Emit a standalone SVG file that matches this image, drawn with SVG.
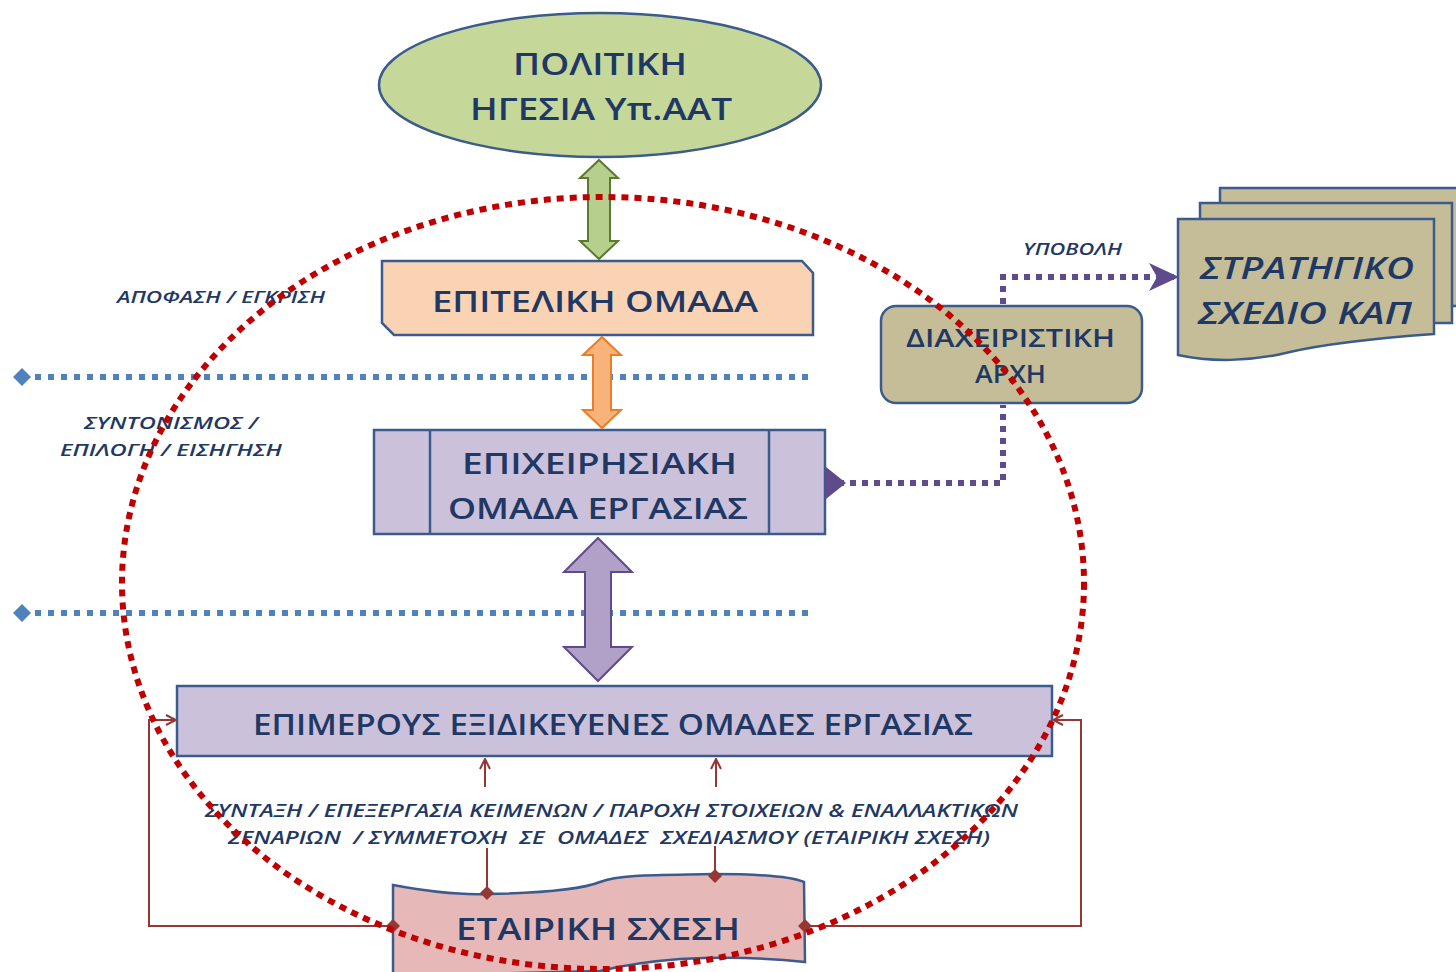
<svg xmlns="http://www.w3.org/2000/svg" width="1456" height="972" viewBox="0 0 1456 972">
<defs>
<style>
.t{font-family:"Open Sans","Noto Sans","DejaVu Sans",sans-serif;font-weight:600;fill:#1f3864;}
.i{font-style:italic;}
.node{stroke:#3b5b8c;stroke-width:2.5;}
.blue{stroke:#4f81bd;stroke-width:6;stroke-dasharray:6 7;fill:none;}
.purp{stroke:#5f4b8b;stroke-width:6;stroke-dasharray:6 6;fill:none;}
.red{stroke:#953735;stroke-width:2;fill:none;}
</style>
<marker id="chev" viewBox="0 0 12 12" refX="11" refY="6" markerWidth="12" markerHeight="12" markerUnits="userSpaceOnUse" orient="auto">
<path d="M1,1 L11,6 L1,11" fill="none" stroke="#953735" stroke-width="2"/>
</marker>
<marker id="rdia" viewBox="0 0 12 12" refX="6" refY="6" markerWidth="14" markerHeight="14" markerUnits="userSpaceOnUse" orient="auto">
<path d="M6,0 L12,6 L6,12 L0,6 Z" fill="#953735"/>
</marker>
<marker id="stealth" viewBox="0 0 30 30" refX="29" refY="15" markerWidth="30" markerHeight="30" markerUnits="userSpaceOnUse" orient="auto">
<path d="M0,1 L30,15 L0,29 L8,15 Z" fill="#5f4b8b"/>
</marker>
<marker id="ptri" viewBox="0 0 20 32" refX="0" refY="16" markerWidth="20" markerHeight="32" markerUnits="userSpaceOnUse" orient="auto">
<path d="M0,0 L20,16 L0,32 Z" fill="#5f4b8b"/>
</marker>
<marker id="bdia" viewBox="0 0 18 18" refX="9" refY="9" markerWidth="18" markerHeight="18" markerUnits="userSpaceOnUse" orient="auto">
<path d="M9,0 L18,9 L9,18 L0,9 Z" fill="#4f81bd"/>
</marker>
</defs>
<rect width="1456" height="972" fill="#ffffff"/>

<g id="guides">
<path class="blue" d="M22,377 H813" marker-start="url(#bdia)"/>
<path class="blue" d="M22,613 H813" marker-start="url(#bdia)"/>
</g>

<g id="labels">
<text class="t i" x="117" y="303" font-size="17" textLength="208" lengthAdjust="spacingAndGlyphs">ΑΠΟΦΑΣΗ / ΕΓΚΡΙΣΗ</text>
<text class="t i" x="84" y="429" font-size="17" textLength="174" lengthAdjust="spacingAndGlyphs">ΣΥΝΤΟΝΙΣΜΟΣ  /</text>
<text class="t i" x="60" y="456" font-size="17" textLength="222" lengthAdjust="spacingAndGlyphs">ΕΠΙΛΟΓΗ / ΕΙΣΗΓΗΣΗ</text>
<text class="t i" x="1023" y="255" font-size="17" textLength="99" lengthAdjust="spacingAndGlyphs">ΥΠΟΒΟΛΗ</text>
<text class="t i" x="205" y="817" font-size="18" textLength="813" lengthAdjust="spacingAndGlyphs">ΣΥΝΤΑΞΗ / ΕΠΕΞΕΡΓΑΣΙΑ ΚΕΙΜΕΝΩΝ / ΠΑΡΟΧΗ ΣΤΟΙΧΕΙΩΝ &amp; ΕΝΑΛΛΑΚΤΙΚΩΝ</text>
<text class="t i" x="228" y="844" font-size="18" textLength="762" lengthAdjust="spacingAndGlyphs" xml:space="preserve">ΣΕΝΑΡΙΩΝ  / ΣΥΜΜΕΤΟΧΗ  ΣΕ  ΟΜΑΔΕΣ  ΣΧΕΔΙΑΣΜΟΥ (ΕΤΑΙΡΙΚΗ ΣΧΕΣΗ)</text>
</g>

<g id="politiki">
<ellipse class="node" cx="600" cy="85" rx="221" ry="72" fill="#c5d89a"/>
<text class="t" x="513" y="75" font-size="30" textLength="174" lengthAdjust="spacingAndGlyphs">ΠΟΛΙΤΙΚΗ</text>
<text class="t" x="470" y="120" font-size="30" textLength="262" lengthAdjust="spacingAndGlyphs">ΗΓΕΣΙΑ Υπ.ΑΑΤ</text>
</g>

<g id="epiteliki">
<path class="node" d="M382,261 H802 L813,273 V335 H394 L382,323 Z" fill="#fad3b4"/>
<text class="t" x="432" y="312" font-size="29" textLength="326" lengthAdjust="spacingAndGlyphs">ΕΠΙΤΕΛΙΚΗ ΟΜΑΔΑ</text>
</g>

<g id="epixeirisiaki">
<rect class="node" x="374" y="430" width="451" height="104" fill="#ccc1da"/>
<path class="node" d="M430,430 V534 M769,430 V534" fill="none"/>
<text class="t" x="462" y="474" font-size="29" textLength="275" lengthAdjust="spacingAndGlyphs">ΕΠΙΧΕΙΡΗΣΙΑΚΗ</text>
<text class="t" x="448" y="519" font-size="29" textLength="300" lengthAdjust="spacingAndGlyphs">ΟΜΑΔΑ ΕΡΓΑΣΙΑΣ</text>
</g>

<g id="epimerous">
<rect class="node" x="177" y="686" width="875" height="70" fill="#ccc1da"/>
<text class="t" x="253" y="735" font-size="28" textLength="720" lengthAdjust="spacingAndGlyphs">ΕΠΙΜΕΡΟΥΣ ΕΞΙΔΙΚΕΥΕΝΕΣ ΟΜΑΔΕΣ ΕΡΓΑΣΙΑΣ</text>
</g>

<g id="etairiki">
<path class="node" d="M393,885 C430,892 460,895 487,894 C540,893 580,890 600,882 C620,874 660,875 713,874 C760,874 790,876 804,882 L805,962 C760,957 720,957 680,959 C640,962 620,966 600,971 L393,976 Z" fill="#e6b9b8"/>
<text class="t" x="456" y="940" font-size="31" textLength="284" lengthAdjust="spacingAndGlyphs">ΕΤΑΙΡΙΚΗ ΣΧΕΣΗ</text>
</g>

<g id="diaxeiristiki">
<rect class="node" x="881" y="306" width="261" height="97" rx="15" fill="#c4bd97"/>
<text class="t" x="906" y="347" font-size="25" textLength="209" lengthAdjust="spacingAndGlyphs">ΔΙΑΧΕΙΡΙΣΤΙΚΗ</text>
<text class="t" x="975" y="383" font-size="25" textLength="71" lengthAdjust="spacingAndGlyphs">ΑΡΧΗ</text>
</g>

<g id="stratigiko">
<rect class="node" x="1220" y="188" width="260" height="118" fill="#c4bd97"/>
<rect class="node" x="1200" y="203" width="252" height="120" fill="#c4bd97"/>
<path class="node" d="M1178,219 H1434 V334 C1380,338 1320,345 1290,352 C1250,362 1210,362 1178,355 Z" fill="#c4bd97"/>
<text class="t i" x="1200" y="279" font-size="31" textLength="214" lengthAdjust="spacingAndGlyphs">ΣΤΡΑΤΗΓΙΚΟ</text>
<text class="t i" x="1198" y="324" font-size="31" textLength="214" lengthAdjust="spacingAndGlyphs">ΣΧΕΔΙΟ ΚΑΠ</text>
</g>

<g id="connectors">
<path d="M599,160 L618,178 L610,178 L610,241 L618,241 L599,259 L580,241 L588,241 L588,178 L580,178 Z" fill="#b7cf8d" stroke="#5a7a30" stroke-width="2"/>
<path d="M602,337 L621,355 L611,355 L611,410 L621,410 L602,428 L583,410 L593,410 L593,355 L583,355 Z" fill="#f7b37a" stroke="#e87e2a" stroke-width="2"/>
<path d="M598,538 L632,572 L611,572 L611,647 L632,647 L598,681 L564,647 L585,647 L585,572 L564,572 Z" fill="#b1a0c7" stroke="#5f4b8b" stroke-width="2"/>
<path class="purp" d="M826,483 H1003 V405" marker-start="url(#ptri)"/>
<path class="purp" d="M1003,304 V277 H1178" marker-end="url(#stealth)"/>
<path class="red" d="M485,787 V759" marker-end="url(#chev)"/>
<path class="red" d="M716,787 V759" marker-end="url(#chev)"/>
<path class="red" d="M487,848 V893" marker-end="url(#rdia)"/>
<path class="red" d="M715,846 V876" marker-end="url(#rdia)"/>
<path class="red" d="M393,926 H149 V720 H176" marker-start="url(#rdia)" marker-end="url(#chev)"/>
<path class="red" d="M805,926 H1081 V720 H1053" marker-start="url(#rdia)" marker-end="url(#chev)"/>
</g>

<g id="scope">
<ellipse cx="603" cy="583" rx="481" ry="386" fill="none" stroke="#c00000" stroke-width="6" stroke-dasharray="7 6"/>
</g>
</svg>
